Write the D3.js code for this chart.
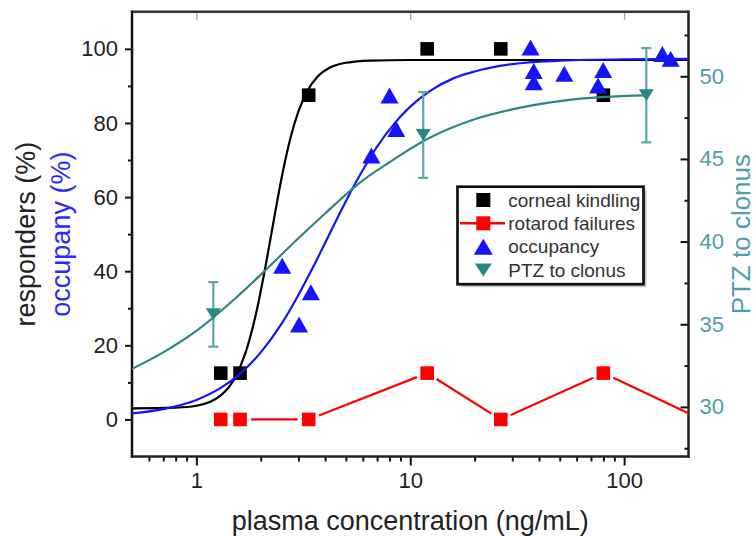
<!DOCTYPE html>
<html><head><meta charset="utf-8">
<script src="https://cdn.jsdelivr.net/npm/d3@7"></script>
<style>
body{margin:0;background:#fff}
svg{display:block}
text{font-family:"Liberation Sans",Arial,Helvetica,sans-serif}
</style>
</head><body>
<svg id="chart" width="756" height="536"></svg>
<script>
// ---------- data ----------
const kindlingX = [1.3, 1.6, 3.35, 12, 26.5, 80];
const kindlingY = [12.5, 12.5, 87.5, 100, 100, 87.5];

const rotarodX = [1.3, 1.6, 3.35, 12, 26.5, 80, 230];
const rotarodY = [0, 0, 0, 12.5, 0, 12.5, 0];

const occX = [2.52, 3.02, 3.43, 6.58, 8.0, 8.6, 36.5, 37.8, 37.8, 52.5, 75.5, 79.8, 151, 165];
const occY = [41.5, 25.6, 34.3, 71.2, 87.4, 78.4, 100.4, 94.0, 91.0, 93.3, 90.1, 94.3, 98.6, 97.3];

const ptzX = [1.2, 11.5, 127];
const ptzY = [35.6, 46.45, 48.85];
const ptzErr = [1.95, 2.6, 2.85];

// fitted curves
const kindFitX = [0.5, 0.8, 1.0, 1.3, 1.5, 1.7, 1.9, 2.1, 2.3, 2.5, 2.75, 3.0, 3.3, 3.7, 4.2, 5, 6.5, 10, 200];
const kindFitY = [3.0, 3.2, 3.7, 6.5, 10.8, 18.1, 28.5, 41.0, 53.7, 65.0, 75.8, 83.1, 88.6, 92.6, 94.9, 96.25, 96.85, 97, 97];

const occFitX = [0.5, 0.7, 1.0, 1.3, 1.6, 2.0, 2.5, 3.0, 3.5, 4.1, 5.0, 6.0, 7.0, 8.5, 10, 12.5, 16, 20, 30, 50, 100, 200];
const occFitY = [1.65, 2.8, 5.25, 8.5, 12.3, 18.1, 25.8, 33.6, 40.9, 48.9, 58.9, 67.3, 73.6, 80.1, 84.4, 88.8, 92.1, 93.9, 95.9, 96.8, 97.2, 97.3];

const ptzFitX = [0.5, 0.7, 1.0, 1.5, 2.0, 3.0, 4.0, 6.0, 8.0, 12, 20, 30, 50, 80, 127];
const ptzFitY = [32.3, 33.3, 34.6, 36.5, 38.0, 40.2, 41.7, 43.7, 44.8, 46.2, 47.4, 48.0, 48.5, 48.75, 48.85];

const xTickValues = [1, 10, 100];
const xTickLabels = ["1", "10", "100"];
const xMinorTicks = [0.6, 0.7, 0.8, 0.9, 2, 3, 4, 5, 6, 7, 8, 9, 20, 30, 40, 50, 60, 70, 80, 90];
const leftTicks = [0, 20, 40, 60, 80, 100];
const leftMinor = [10, 30, 50, 70, 90];
const rightTicks = [30, 35, 40, 45, 50];
const rightMinor = [27.5, 32.5, 37.5, 42.5, 47.5, 52.5];

const legendLabels = ["corneal kindling", "rotarod failures", "occupancy", "PTZ to clonus"];

// ---------- layout ----------
const L = 132, R = 688.5, T = 11.8, B = 456.5;
const BLACK = "#000", RED = "#ff0000", BLUE = "#1414ff", TEAL = "#2b8784", TEALBAR = "#5ea7a4", RLABEL = "#4f9eac";

const svg = d3.select("#chart");
const x = d3.scaleLog().domain([0.5, 200]).range([L, R]);
const yL = d3.scaleLinear().domain([-10, 110]).range([B, T]);
const yR = d3.scaleLinear().domain([27, 53.9]).range([B, T]);

svg.append("defs").append("clipPath").attr("id", "plot")
  .append("rect").attr("x", L).attr("y", T).attr("width", R - L).attr("height", B - T);

const triUp = (w, h) => `M0,${-h/2}L${w/2},${h/2}L${-w/2},${h/2}Z`;
const triDown = (w, h) => `M0,${h/2}L${w/2},${-h/2}L${-w/2},${-h/2}Z`;

// ---------- axes ----------
function styleAxis(g, color) {
  g.select(".domain").remove();
  g.selectAll(".tick line").attr("stroke", "#111").attr("stroke-width", 2);
  g.selectAll(".tick text").attr("fill", color).style("font-size", "22px")
    .style("font-family", '"Liberation Sans",Arial,sans-serif');
}

// bottom
svg.append("g").attr("transform", `translate(0,${B})`)
  .call(d3.axisBottom(x).tickValues(xMinorTicks).tickSize(5).tickFormat(""))
  .call(g => styleAxis(g, "#222"));
svg.append("g").attr("transform", `translate(0,${B})`)
  .call(d3.axisBottom(x).tickValues(xTickValues).tickSize(9).tickPadding(7)
    .tickFormat((d, i) => xTickLabels[i]))
  .call(g => styleAxis(g, "#222"));
// top (inward major ticks)
svg.append("g").attr("transform", `translate(0,${T})`)
  .call(d3.axisTop(x).tickValues(xTickValues).tickSize(-8).tickFormat(""))
  .call(g => { g.select(".domain").remove(); g.selectAll(".tick line").attr("stroke", "#aaa").attr("stroke-width", 1.5); });

// left
svg.append("g").attr("transform", `translate(${L},0)`)
  .call(d3.axisLeft(yL).tickValues(leftMinor).tickSize(4).tickFormat(""))
  .call(g => styleAxis(g, "#222"));
svg.append("g").attr("transform", `translate(${L},0)`)
  .call(d3.axisLeft(yL).tickValues(leftTicks).tickSize(7).tickPadding(7))
  .call(g => styleAxis(g, "#222"));

// right (inward ticks)
svg.append("g").attr("transform", `translate(${R},0)`)
  .call(d3.axisRight(yR).tickValues(rightMinor).tickSize(-4).tickFormat(""))
  .call(g => styleAxis(g, RLABEL));
svg.append("g").attr("transform", `translate(${R},0)`)
  .call(d3.axisRight(yR).tickValues(rightTicks).tickSize(-8).tickPadding(11))
  .call(g => styleAxis(g, RLABEL));

// frame
svg.append("line").attr("x1", L).attr("x2", R).attr("y1", T).attr("y2", T).attr("stroke", "#333").attr("stroke-width", 2.5);
svg.append("line").attr("x1", R).attr("x2", R).attr("y1", T - 1.2).attr("y2", B + 1.2).attr("stroke", "#222").attr("stroke-width", 2.5);
svg.append("line").attr("x1", L - 1.2).attr("x2", R + 1.2).attr("y1", B).attr("y2", B).attr("stroke", "#222").attr("stroke-width", 2.5);
svg.append("line").attr("x1", L).attr("x2", L).attr("y1", T - 1.2).attr("y2", B + 1.2).attr("stroke", "#111").attr("stroke-width", 2.5);

// axis titles
svg.append("text").attr("x", (L + R) / 2).attr("y", 530).attr("text-anchor", "middle")
  .style("font-size", "27px").attr("fill", "#222").text("plasma concentration (ng/mL)");
svg.append("text").attr("transform", `translate(35,${(T + B) / 2}) rotate(-90)`).attr("text-anchor", "middle")
  .style("font-size", "27px").attr("fill", "#222").text("responders (%)");
svg.append("text").attr("transform", `translate(70,${(T + B) / 2}) rotate(-90)`).attr("text-anchor", "middle")
  .style("font-size", "27px").attr("fill", "#2a2aff").text("occupany (%)");
svg.append("text").attr("transform", `translate(750,${(T + B) / 2}) rotate(-90)`).attr("text-anchor", "middle")
  .style("font-size", "26px").attr("fill", RLABEL).text("PTZ to clonus");

// ---------- marks ----------
const plot = svg.append("g").attr("clip-path", "url(#plot)");

const kindFit = kindFitX.map((v, i) => [v, kindFitY[i]]);
const occFit = occFitX.map((v, i) => [v, occFitY[i]]);
const ptzFit = ptzFitX.map((v, i) => [v, ptzFitY[i]]);

const lineL = d3.line().x(d => x(d[0])).y(d => yL(d[1])).curve(d3.curveMonotoneX);
const lineR = d3.line().x(d => x(d[0])).y(d => yR(d[1])).curve(d3.curveMonotoneX);

// black fit + squares
plot.append("path").attr("d", lineL(kindFit)).attr("fill", "none").attr("stroke", BLACK).attr("stroke-width", 2.2);
plot.selectAll(".kind").data(kindlingX).join("rect")
  .attr("x", (d) => x(d) - 6.8).attr("y", (d, i) => yL(kindlingY[i]) - 6.8)
  .attr("width", 13.6).attr("height", 13.6).attr("fill", BLACK);

// red line with gaps to symbols
const redPts = rotarodX.map((v, i) => [x(v), yL(rotarodY[i])]);
const GAP = 11;
for (let i = 0; i < redPts.length - 1; i++) {
  const [x1, y1] = redPts[i], [x2, y2] = redPts[i + 1];
  const len = Math.hypot(x2 - x1, y2 - y1);
  if (len <= 2 * GAP) continue;
  const ux = (x2 - x1) / len, uy = (y2 - y1) / len;
  plot.append("line")
    .attr("x1", x1 + ux * GAP).attr("y1", y1 + uy * GAP)
    .attr("x2", x2 - ux * GAP).attr("y2", y2 - uy * GAP)
    .attr("stroke", RED).attr("stroke-width", 2.2);
}
plot.selectAll(".rot").data(rotarodX).join("rect")
  .attr("x", d => x(d) - 6.8).attr("y", (d, i) => yL(rotarodY[i]) - 6.8)
  .attr("width", 13.6).attr("height", 13.6).attr("fill", RED);

// occupancy
plot.selectAll(".occ").data(occX).join("path")
  .attr("d", triUp(18, 16))
  .attr("transform", (d, i) => `translate(${x(d)},${yL(occY[i])})`)
  .attr("fill", BLUE);
plot.append("path").attr("d", lineL(occFit)).attr("fill", "none").attr("stroke", BLUE).attr("stroke-width", 2.2);

// PTZ
plot.append("path").attr("d", lineR(ptzFit)).attr("fill", "none").attr("stroke", TEAL).attr("stroke-width", 2.2);
const eb = plot.selectAll(".eb").data(ptzX).join("g");
eb.append("line").attr("x1", d => x(d)).attr("x2", d => x(d))
  .attr("y1", (d, i) => yR(ptzY[i] + ptzErr[i])).attr("y2", (d, i) => yR(ptzY[i] - ptzErr[i]))
  .attr("stroke", TEALBAR).attr("stroke-width", 2.2);
eb.append("line").attr("x1", d => x(d) - 5).attr("x2", d => x(d) + 5)
  .attr("y1", (d, i) => yR(ptzY[i] + ptzErr[i])).attr("y2", (d, i) => yR(ptzY[i] + ptzErr[i]))
  .attr("stroke", TEALBAR).attr("stroke-width", 2.2);
eb.append("line").attr("x1", d => x(d) - 5).attr("x2", d => x(d) + 5)
  .attr("y1", (d, i) => yR(ptzY[i] - ptzErr[i])).attr("y2", (d, i) => yR(ptzY[i] - ptzErr[i]))
  .attr("stroke", TEALBAR).attr("stroke-width", 2.2);
plot.selectAll(".ptz").data(ptzX).join("path")
  .attr("d", triDown(15, 12))
  .attr("transform", (d, i) => `translate(${x(d)},${yR(ptzY[i])})`)
  .attr("fill", TEAL);

// ---------- legend ----------
const lg = svg.append("g");
const LX = 457.5, LY = 186.7, LW = 186, LH = 97.5;
lg.append("rect").attr("x", LX + 3).attr("y", LY + 3).attr("width", LW).attr("height", LH).attr("fill", "#c8c8c8");
lg.append("rect").attr("x", LX).attr("y", LY).attr("width", LW).attr("height", LH)
  .attr("fill", "#fff").attr("stroke", "#111").attr("stroke-width", 2.7);
const rowY = [200, 223.3, 246.7, 270];
const symX = 483.3;
lg.append("rect").attr("x", symX - 7).attr("y", rowY[0] - 7).attr("width", 14).attr("height", 14).attr("fill", BLACK);
lg.append("line").attr("x1", 460).attr("x2", 505).attr("y1", rowY[1]).attr("y2", rowY[1]).attr("stroke", RED).attr("stroke-width", 2.5);
lg.append("rect").attr("x", symX - 7).attr("y", rowY[1] - 7).attr("width", 14).attr("height", 14).attr("fill", RED);
lg.append("path").attr("d", triUp(19, 16)).attr("transform", `translate(${symX},${rowY[2]})`).attr("fill", BLUE);
lg.append("path").attr("d", triDown(17, 13)).attr("transform", `translate(${symX},${rowY[3]})`).attr("fill", TEAL);
lg.selectAll(".lt").data(legendLabels).join("text")
  .attr("x", 508.3).attr("y", (d, i) => rowY[i] + 6.5)
  .style("font-size", "19px").attr("fill", "#333").text(d => d);
</script>
</body></html>
